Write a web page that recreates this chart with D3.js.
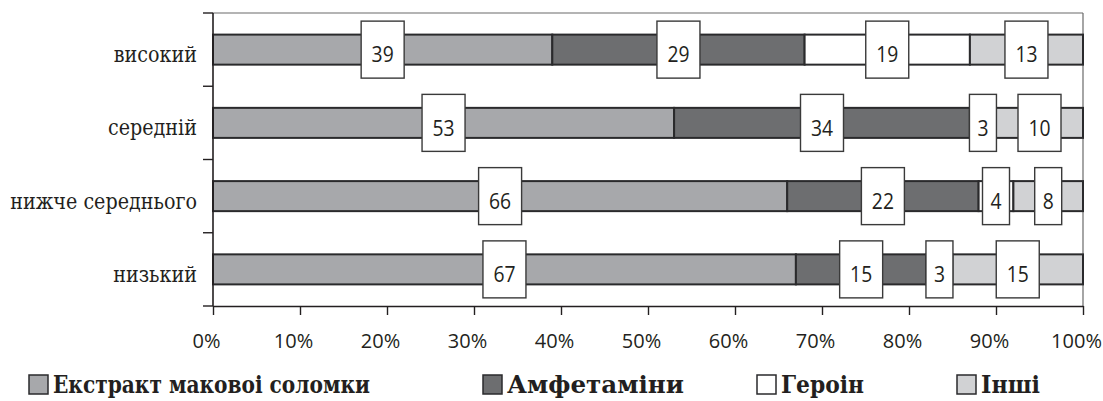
<!DOCTYPE html>
<html>
<head>
<meta charset="utf-8">
<script src="https://cdn.jsdelivr.net/npm/d3@7"></script>
<style>
  html, body { margin: 0; padding: 0; background: #ffffff; }
  svg { display: block; }
</style>
</head>
<body>
<svg id="chart" width="1103" height="401"></svg>
<script>
// ---- data ----
const categories = ["високий", "середній", "нижче середнього", "низький"];
const seriesNames = ["Екстракт маковоі соломки", "Амфетаміни", "Героін", "Інші"];
const extract = [39, 53, 66, 67];
const amphetamines = [29, 34, 22, 15];
const heroin = [19, 3, 4, 3];
const others = [13, 10, 8, 15];
const tickValues = [0, 10, 20, 30, 40, 50, 60, 70, 80, 90, 100];

// ---- styles / layout ----
const colors = ["#a7a8ab", "#6d6e70", "#ffffff", "#d1d2d4"];
const ink = "#231f20";
const plot = { left: 213, right: 1083, top: 13, bottom: 306 };
const legendX = [29, 483, 757, 957];
const legendTextW = [317, 177, 83, 59];

const svg = d3.select("#chart");
const series = [extract, amphetamines, heroin, others];

const x = d3.scaleLinear().domain([0, 100]).range([plot.left, plot.right]);
const y = d3.scaleBand().domain(categories).range([plot.top, plot.bottom])
  .paddingInner(0.59).paddingOuter(0.295);

// stacked data
const rows = categories.map((c, i) => {
  const o = { cat: c };
  seriesNames.forEach((s, j) => o[s] = series[j][i]);
  return o;
});
const stacked = d3.stack().keys(seriesNames)(rows);

// frame top & right
svg.append("line").attr("x1", plot.left).attr("x2", plot.right)
  .attr("y1", plot.top).attr("y2", plot.top)
  .attr("stroke", "#6a6a6a").attr("stroke-width", 1.2);
svg.append("line").attr("x1", plot.right).attr("x2", plot.right)
  .attr("y1", plot.top).attr("y2", plot.bottom)
  .attr("stroke", "#6a6a6a").attr("stroke-width", 1.2);

// bars
const g = svg.append("g");
stacked.forEach((layer, j) => {
  g.selectAll(null).data(layer).enter().append("rect")
    .attr("x", d => x(d[0]))
    .attr("y", d => y(d.data.cat))
    .attr("width", d => x(d[1]) - x(d[0]))
    .attr("height", y.bandwidth())
    .attr("fill", colors[j])
    .attr("stroke", "#2a2a2c")
    .attr("stroke-width", 2);
});

// value boxes
const labels = svg.append("g");
stacked.forEach((layer) => {
  layer.forEach(d => {
    const v = d[1] - d[0];
    const txt = String(v);
    const cx = x((d[0] + d[1]) / 2);
    const cy = y(d.data.cat) + y.bandwidth() / 2;
    const w = 11 + 16 * txt.length;
    const h = 57;
    labels.append("rect")
      .attr("x", cx - w / 2).attr("y", cy - h / 2)
      .attr("width", w).attr("height", h)
      .attr("fill", "#ffffff").attr("stroke", "#3a3a3a").attr("stroke-width", 1.4);
    labels.append("text")
      .attr("transform", `translate(${cx},${cy + 12.8}) scale(0.92,1)`)
      .attr("text-anchor", "middle")
      .attr("font-family", "'Open Sans', sans-serif")
      .attr("font-size", 21)
      .attr("fill", ink)
      .text(txt);
  });
});

// left axis
svg.append("line").attr("x1", plot.left).attr("x2", plot.left)
  .attr("y1", plot.top).attr("y2", plot.bottom)
  .attr("stroke", ink).attr("stroke-width", 1.6);
const step = y.step();
const bounds = d3.range(categories.length + 1).map(i => plot.top + i * step);
svg.selectAll(null).data(bounds).enter().append("line")
  .attr("x1", plot.left - 10).attr("x2", plot.left)
  .attr("y1", d => d).attr("y2", d => d)
  .attr("stroke", ink).attr("stroke-width", 1.4);
svg.selectAll(null).data(categories).enter().append("text")
  .attr("transform", d => `translate(197,${y(d) + y.bandwidth() / 2 + 12.5}) scale(0.87,1)`)
  .attr("text-anchor", "end")
  .attr("font-family", "'DejaVu Serif', serif")
  .attr("font-size", 22)
  .attr("fill", ink)
  .text(d => d);

// bottom axis
const xAxis = d3.axisBottom(x).tickValues(tickValues)
  .tickFormat(d => d + "%").tickSize(9).tickSizeOuter(0);
const ax = svg.append("g").attr("transform", `translate(0,${plot.bottom})`).call(xAxis);
ax.select(".domain").attr("stroke", ink).attr("stroke-width", 1.6);
ax.selectAll(".tick line").attr("stroke", ink).attr("stroke-width", 1.4);
ax.selectAll(".tick text")
  .attr("y", 42).attr("dy", 0).attr("dx", -7)
  .attr("font-family", "'Open Sans', sans-serif")
  .attr("font-size", 20)
  .attr("fill", ink);

// legend
const lg = svg.append("g");
seriesNames.forEach((s, j) => {
  lg.append("rect")
    .attr("x", legendX[j]).attr("y", 375)
    .attr("width", 19).attr("height", 19)
    .attr("fill", colors[j]).attr("stroke", "#2a2a2c").attr("stroke-width", 1.5);
  lg.append("text")
    .attr("x", legendX[j] + 24).attr("y", 393)
    .attr("font-family", "'DejaVu Serif', serif")
    .attr("font-weight", "bold")
    .attr("font-size", 24)
    .attr("textLength", legendTextW[j])
    .attr("lengthAdjust", "spacingAndGlyphs")
    .attr("fill", ink)
    .text(s);
});
</script>
</body>
</html>
